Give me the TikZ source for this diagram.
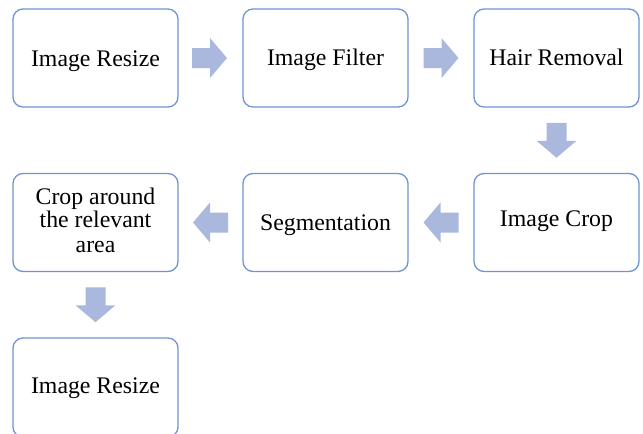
\documentclass[tikz,border=0pt]{standalone}
\usepackage{fontspec}
\setmainfont{Liberation Serif}
\usetikzlibrary{calc}
\definecolor{boxblue}{HTML}{6F94D2}
\definecolor{arrowfill}{HTML}{AAB8DE}
\tikzset{
  stepbox/.style={draw=boxblue, line width=1.3pt, rounded corners=10pt, fill=white,
    minimum width=165pt, minimum height=98pt, align=center, inner sep=2pt,
    font=\fontsize{23.8}{24}\selectfont, text=black},
  steptext/.style={font=\fontsize{23.8}{24}\selectfont, text=black, anchor=base, inner sep=0pt},
  blockarrow/.pic={\fill[arrowfill] (-17.5,-10)--(0.5,-10)--(0.5,-20)--(17.5,0)--(0.5,20)--(0.5,10)--(-17.5,10)--cycle;}
}
\begin{document}
\begin{tikzpicture}[x=1pt,y=-1pt]
\useasboundingbox (0,0) rectangle (643,434);
\clip (0,0) rectangle (643,434);
\node[stepbox] (r1) at (95.5,58) {};
\node[stepbox] (f1) at (325.5,58) {};
\node[stepbox] (h1) at (556.5,58) {};
\node[stepbox] (c1) at (556.5,222.5) {};
\node[stepbox] (s1) at (325.5,222.5) {};
\node[stepbox] (a1) at (95.5,222.5) {};
\node[stepbox, minimum height=99pt] (r2) at (95.5,387.5) {};
\node[steptext] (tr1) at ($(r1.center)+(0,8)$) {Image Resize};
\node[steptext] (tf1) at ($(f1.center)+(0,7.5)$) {Image Filter};
\node[steptext] (th1) at ($(h1.center)+(0,7.8)$) {Hair Removal};
\node[steptext] (tc1) at ($(c1.center)+(0,4)$) {Image Crop};
\node[steptext] (ts1) at ($(s1.center)+(0,8)$) {Segmentation};
\node[steptext] (ta1) at ($(a1.center)+(0,-18.5)$) {Crop around};
\node[steptext] (ta2) at ($(a1.center)+(0,5)$) {the relevant};
\node[steptext] (ta3) at ($(a1.center)+(0,29.5)$) {area};
\node[steptext] (tr2) at ($(r2.center)+(0,6)$) {Image Resize};
\pic at ($(r1.east)!0.5!(f1.west)+(-1,0)$) {blockarrow};
\pic at ($(f1.east)!0.5!(h1.west)$) {blockarrow};
\pic[rotate=-90] at ($(h1.south)!0.5!(c1.north)$) {blockarrow};
\pic[rotate=180] at ($(c1.west)!0.5!(s1.east)$) {blockarrow};
\pic[rotate=180] at ($(s1.west)!0.5!(a1.east)$) {blockarrow};
\pic[rotate=-90] at ($(a1.south)!0.5!(r2.north)$) {blockarrow};
\end{tikzpicture}
\end{document}
